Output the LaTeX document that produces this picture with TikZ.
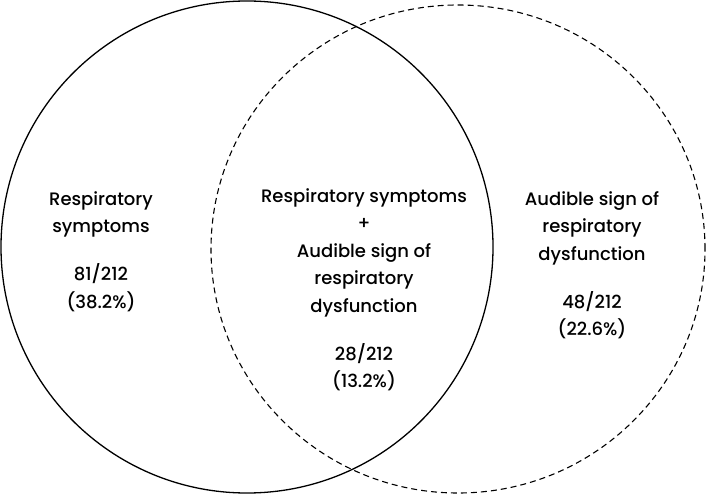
\documentclass[tikz,border=0pt]{standalone}
\usepackage{fontspec}
\setmainfont{Poppins}[UprightFont={* Medium}]
\begin{document}
\begin{tikzpicture}[x=1pt,y=1pt,
  setA/.style={line width=1.3pt},
  setB/.style={line width=1.1pt,dash pattern=on 6pt off 4pt},
  lbl/.style={align=center,inner sep=0pt,anchor=north,font=\fontsize{18}{27.5}\selectfont}]
\useasboundingbox (0,0) rectangle (708,498);
\draw[setA] (247,251) circle[radius=246];
\draw[setB] (458,249) circle[x radius=247,y radius=244];
\node[lbl] (left) at (101,307) {Respiratory\\symptoms\\[20.5pt]81/212\\(38.2\%)};
\node[lbl] (mid) at (364,310) {Respiratory symptoms\\+\\Audible sign of\\respiratory\\dysfunction\\[20.5pt]28/212\\(13.2\%)};
\node[lbl] (right) at (592,307) {Audible sign of\\respiratory\\dysfunction\\[20.5pt]48/212\\(22.6\%)};
\end{tikzpicture}
\end{document}
